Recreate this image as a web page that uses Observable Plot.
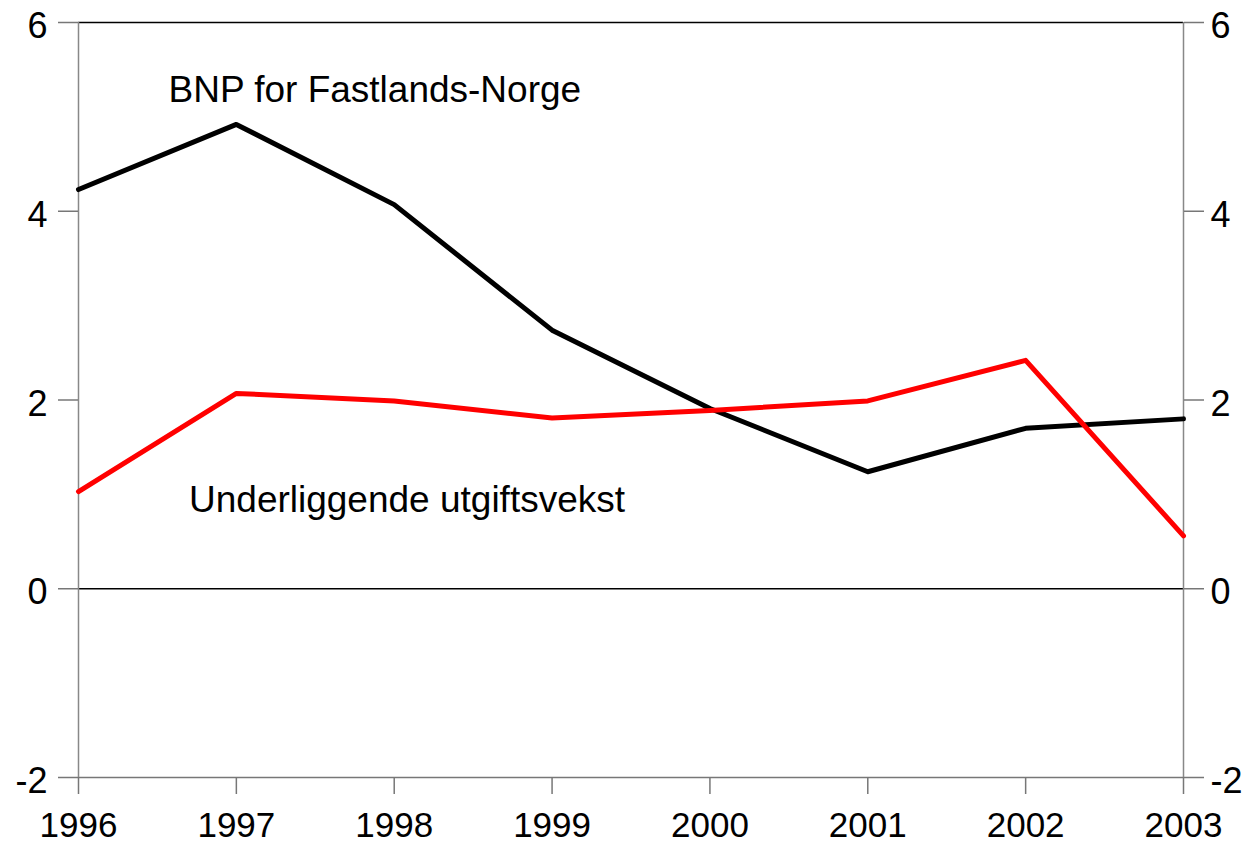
<!DOCTYPE html>
<html><head><meta charset="utf-8">
<script src="https://cdn.jsdelivr.net/npm/d3@7"></script>
<script src="https://cdn.jsdelivr.net/npm/@observablehq/plot@0.6"></script>
<style>body{margin:0;background:#fff;} svg{display:block;font-family:"Liberation Sans",Arial,sans-serif;}</style>
</head><body><div id="chart"></div>
<script>
const years = [1996, 1997, 1998, 1999, 2000, 2001, 2002, 2003];
const bnp = [4.23, 4.92, 4.07, 2.74, 1.91, 1.24, 1.70, 1.80];
const utgift = [1.03, 2.07, 1.99, 1.81, 1.89, 1.99, 2.42, 0.56];
const yTicks = [-2, 0, 2, 4, 6];
const labelText = ["BNP for Fastlands-Norge", "Underliggende utgiftsvekst"];
const labelX = [1996.57, 1996.70];
const labelY = [5.28, 0.94];

const data = years.flatMap((yr, i) => [
  {year: yr, value: bnp[i], series: "bnp"},
  {year: yr, value: utgift[i], series: "utgift"}
]);
const labels = labelText.map((t, i) => ({text: t, x: labelX[i], y: labelY[i]}));
const fmtY = d => (d < 0 ? "-" + Math.abs(d) : String(d));
const blank = () => "";

const chart = Plot.plot({
  width: 1251, height: 843,
  marginLeft: 78, marginRight: 68, marginTop: 22, marginBottom: 66,
  x: {domain: [1996, 2003]},
  y: {domain: [-2, 6]},
  style: {fontSize: "34px", fontFamily: "Liberation Sans, Arial, sans-serif", color: "#000", background: "#fff"},
  marks: [
    Plot.ruleY([6], {stroke: "#000", strokeWidth: 1.5}),
    Plot.ruleY([0], {stroke: "#000", strokeWidth: 1.5}),
    Plot.ruleY([-2], {stroke: "#777", strokeWidth: 1.5}),
    Plot.ruleX([1996], {stroke: "#888", strokeWidth: 1.5}),
    Plot.ruleX([2003], {stroke: "#888", strokeWidth: 1.5}),
    Plot.axisY(yTicks, {anchor: "left", tickSize: 20, stroke: "#777", strokeWidth: 1.5, label: null, tickFormat: blank}),
    Plot.axisY(yTicks, {anchor: "right", tickSize: 20, stroke: "#777", strokeWidth: 1.5, label: null, tickFormat: blank}),
    Plot.axisY(yTicks, {anchor: "left", tickSize: 0, tickPadding: 31, label: null, fontSize: 36, tickFormat: fmtY, dy: 4}),
    Plot.axisY(yTicks, {anchor: "right", tickSize: 0, tickPadding: 27, label: null, fontSize: 36, tickFormat: fmtY, dy: 4}),
    Plot.axisX(years, {anchor: "bottom", tickSize: 17, tickPadding: 18, stroke: "#777", strokeWidth: 1.5, label: null, fontSize: 35, tickFormat: d => String(d)}),
    Plot.line(data, {x: "year", y: "value", z: "series", stroke: d => d.series === "bnp" ? "#000" : "#ff0000", strokeWidth: 5}),
    Plot.text(labels, {x: "x", y: "y", text: "text", textAnchor: "start", fontSize: 37, fill: "#000"})
  ]
});
document.getElementById("chart").appendChild(chart);
</script></body></html>
